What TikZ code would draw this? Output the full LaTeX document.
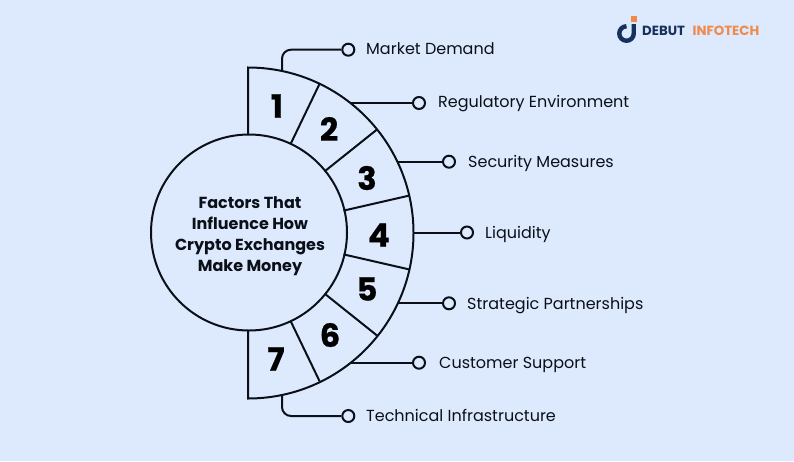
\documentclass[tikz,border=0pt]{standalone}
\usepackage{fontspec}
\usetikzlibrary{calc}
\setmainfont{Poppins}
\newfontfamily\numfont[FakeBold=0.7]{Poppins Bold}
\definecolor{bgc}{HTML}{DDEAFE}
\definecolor{ink}{HTML}{0B1018}
\definecolor{navy}{HTML}{15325C}
\definecolor{orng}{HTML}{F0894A}
\tikzset{
  wire/.style={draw=ink,line width=2pt},
  dot/.style={circle,draw=ink,line width=2pt,minimum size=12pt,inner sep=0pt},
  lab/.style={anchor=base west,text=ink,font=\fontsize{16}{18}\selectfont,inner sep=0pt},
  num/.style={text=black,font=\fontsize{32}{33}\numfont,inner sep=0pt},
  hub/.style={text=ink,align=center,font=\fontsize{16}{21}\selectfont\bfseries,inner sep=0pt},
}
\begin{document}
\begin{tikzpicture}[x=1pt,y=-1pt]
\useasboundingbox[fill=bgc] (0,0) rectangle (794,461);
\coordinate (c) at (248,232.5);
% outer arc and edges
\draw[wire,line join=miter] (248,135) -- (248,67.5) arc[start angle=90,end angle=-90,radius=165.5pt] -- (248,330);
\node[circle,draw=ink,line width=2pt,minimum size=196pt,inner sep=0pt] (hubc) at (249,232.5) {};
\foreach \a in {64.3,38.6,12.9,-12.9,-38.6,-64.3}
  \draw[wire] ($(c)+({98*cos(\a)},{-98*sin(\a)})$) -- ($(c)+({165*cos(\a)},{-165*sin(\a)})$);
\node[hub] (title) at (250,236) {Factors That\\Influence How\\Crypto Exchanges\\Make Money};
\node[num] (n1) at (277,106) {1};
\node[num] (n2) at (329,129) {2};
\node[num] (n3) at (367,178) {3};
\node[num] (n4) at (379,235) {4};
\node[num] (n5) at (367,289) {5};
\node[num] (n6) at (330,335) {6};
\node[num] (n7) at (276,359) {7};
% dots
\node[dot] (d1) at (348.3,49.7) {};
\node[dot] (d2) at (419,103) {};
\node[dot] (d3) at (449,161.7) {};
\node[dot] (d4) at (467,232.5) {};
\node[dot] (d5) at (449,303.3) {};
\node[dot] (d6) at (419,362.7) {};
\node[dot] (d7) at (348.3,416) {};
\coordinate (a1) at (282,71.5);
\coordinate (a2) at (351,103);
\coordinate (a3) at (398,161.7);
\coordinate (a4) at (413,232.5);
\coordinate (a5) at (398,303.3);
\coordinate (a6) at (351,362.7);
\coordinate (a7) at (282,394.5);
\draw[wire,rounded corners=9pt] (a1) |- (d1.west);
\draw[wire,rounded corners=9pt] (a7) |- (d7.west);
\draw[wire] (a2) -- (d2.west);
\draw[wire] (a3) -- (d3.west);
\draw[wire] (a4) -- (d4.west);
\draw[wire] (a5) -- (d5.west);
\draw[wire] (a6) -- (d6.west);
\node[lab] (l1) at (366,54) {Market Demand};
\node[lab] (l2) at (438,107.5) {Regulatory Environment};
\node[lab] (l3) at (468,167) {Security Measures};
\node[lab] (l4) at (485,238) {Liquidity};
\node[lab] (l5) at (467,309) {Strategic Partnerships};
\node[lab] (l6) at (439,368) {Customer Support};
\node[lab] (l7) at (366,421) {Technical Infrastructure};
% logo
\fill[orng] (630.5,16) rectangle (636.5,22) ;
\draw[navy,line width=4.4pt] (633.75,24) -- (633.75,33.5) arc[start angle=0,end angle=-270,radius=7.25pt];
\node[anchor=west,inner sep=0pt,font=\fontsize{13.3}{14}\selectfont\bfseries,text=navy] (lg1) at (642,30.5) {DEBUT};
\node[anchor=west,inner sep=0pt,font=\fontsize{13.3}{14}\selectfont\bfseries,text=orng] (lg2) at (692.5,30.5) {INFOTECH};
\end{tikzpicture}
\end{document}
